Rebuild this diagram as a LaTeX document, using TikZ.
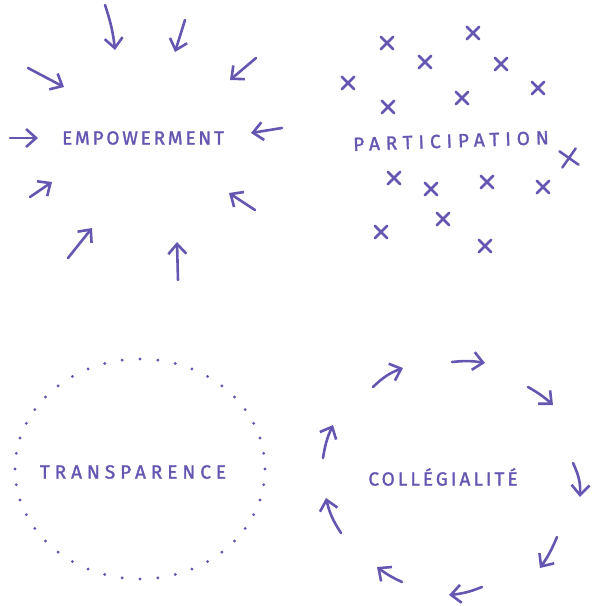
\documentclass[tikz,border=0pt]{standalone}
\usepackage{fontspec}
\newfontfamily\hand[FakeBold=1.5]{Fira Sans}
\usetikzlibrary{arrows.meta,shapes.misc}
\definecolor{ink}{RGB}{102,86,178}
\tikzset{
  arr/.style={draw=ink, line width=2.6pt, line cap=round, -{Straight Barb[length=10pt,width=18pt,line width=2.6pt]}},
  xmark/.style={draw=ink, cross out, line width=2.5pt, minimum size=10pt, inner sep=0pt, line cap=round},
  word/.style={text=ink, font=\hand\fontsize{19}{19}\selectfont, inner sep=0pt},
  dot/.style={fill=ink}
}
\begin{document}
\begin{tikzpicture}[x=1pt,y=-1pt]
\useasboundingbox (0,0) rectangle (592,606);
% ---------- Empowerment
\node[word] (emp) at (143,138) {\addfontfeature{LetterSpace=14.5}EMPOWERMENT};
\draw[arr] (105,5) to[bend left=6] (115,50);
\draw[arr] (185,20) -- (175,52);
\draw[arr] (256,58) -- (230,80);
\draw[arr] (28,68) -- (64,87);
\draw[arr] (10,138) -- (38,138);
\draw[arr] (282,128) -- (251,133);
\draw[arr] (30,197) -- (52,182);
\draw[arr] (255,210) -- (229,193);
\draw[arr] (68,258) -- (92,228);
\draw[arr] (178,280) -- (177,242);
% ---------- Participation
\node[word, rotate=2] (par) at (451,141) {\addfontfeature{LetterSpace=31}PARTICIPATION};
\foreach \px/\py [count=\i] in {387/43,473/33,425/62,501/64,348/83,538/88,388/107,462/98,
  394/178,431/189,487/182,543/187,443/219,381/232,485/246}
  \node[xmark] (x\i) at (\px,\py) {};
\node[xmark, minimum size=14pt, rotate=10] (x16) at (569,158) {};
% ---------- Transparence
\node[word] (tra) at (133,472) {\addfontfeature{LetterSpace=26}TRANSPARENCE};
\foreach \i in {0,...,43}
  \fill[dot] ({140+125*cos(\i*360/44)},{469+110*sin(\i*360/44)}) circle (1.6);
% ---------- Collegialite
\node[word] (col) at (443,477) {\addfontfeature{LetterSpace=16}COLLÉGIALITÉ};
\draw[arr] (373,387) to[bend left=12] (403,368);
\draw[arr] (452,362) to[bend left=8] (485,363);
\draw[arr] (528,387) to[bend left=6] (553,405);
\draw[arr] (573,463) to[bend left=14] (580,497);
\draw[arr] (557,537) to[bend left=6] (540,568);
\draw[arr] (482,587) to[bend left=8] (449,595);
\draw[arr] (402,582) to[bend left=6] (377,567);
\draw[arr] (341,533) to[bend left=10] (326,498);
\draw[arr] (323,458) to[bend left=8] (333,425);
\end{tikzpicture}
\end{document}
